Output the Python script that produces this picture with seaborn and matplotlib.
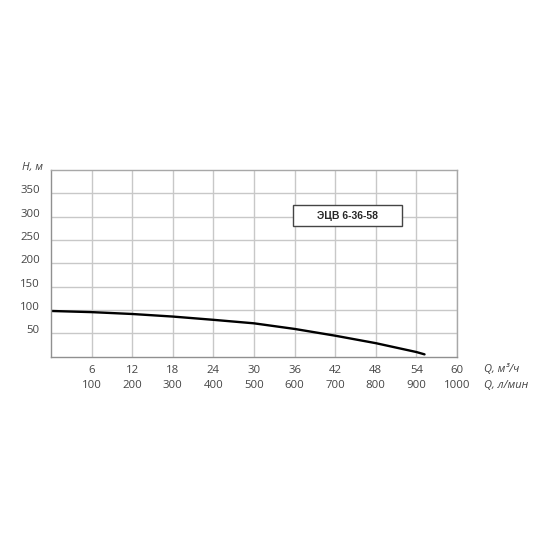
import matplotlib.pyplot as plt
import matplotlib.transforms as mtransforms
from matplotlib.patches import Rectangle
import seaborn as sns
import pandas as pd

# ---- data ----
q_m3h = [0, 6, 12, 18, 24, 30, 36, 42, 48, 54, 55.2]
head_m = [98, 95.5, 91.5, 86, 79, 71.5, 59.5, 45, 29, 10, 5]

x_ticks = [6, 12, 18, 24, 30, 36, 42, 48, 54, 60]
x_ticks_lmin = [100, 200, 300, 400, 500, 600, 700, 800, 900, 1000]
y_ticks = [50, 100, 150, 200, 250, 300, 350]
pump_name = "ЭЦВ 6-36-58"

df = pd.DataFrame({"Q": q_m3h, "H": head_m})

sns.set_style("whitegrid")
plt.rcParams['font.family'] = ['Open Sans', 'DejaVu Sans']
txt_col = "#444444"

fig = plt.figure(figsize=(5.5, 5.5), dpi=100)
ax = fig.add_axes([51 / 550, 1 - 356.7 / 550, 406 / 550, 186.7 / 550])

sns.lineplot(data=df, x="Q", y="H", color="black", linewidth=1.7, ax=ax)

ax.set_xlim(0, 60)
ax.set_ylim(0, 400)
ax.set_xticks(x_ticks)
ax.set_xticklabels([f"{a}\n{b}" for a, b in zip(x_ticks, x_ticks_lmin)],
                   linespacing=1.55)
ax.set_yticks(y_ticks)
ax.set_xlabel("")
ax.set_ylabel("")
ax.tick_params(axis="both", length=0, labelsize=8.2, colors=txt_col, pad=6)
ax.tick_params(axis="y", pad=8)

# y labels sit a bit above their grid lines
off = mtransforms.ScaledTranslation(0, 4 / 100, fig.dpi_scale_trans)
for lab in ax.get_yticklabels():
    lab.set_transform(lab.get_transform() + off)

ax.grid(True, color="#c8c8c8", linewidth=1)
for sp in ax.spines.values():
    sp.set_color("#a8a8a8")
    sp.set_linewidth(1)
ax.spines["bottom"].set_color("#909090")
ax.spines["left"].set_color("#909090")

# pump label box
ax.add_patch(Rectangle((35.7, 281), 16.1, 44, facecolor="white",
                       edgecolor="#444444", linewidth=1, zorder=3))
ax.text(43.75, 302, pump_name, ha="center", va="center", fontsize=7.5,
        fontweight="bold", family=["Liberation Sans", "DejaVu Sans"], zorder=4)

# axis captions
fig.text(22 / 550, 1 - 167 / 550, "H, м", style="italic", fontsize=8,
         color=txt_col, ha="left", va="center")
fig.text(484 / 550, 1 - 369 / 550, "Q, м³/ч", style="italic", fontsize=8,
         color=txt_col, ha="left", va="center")
fig.text(484 / 550, 1 - 386 / 550, "Q, л/мин", style="italic", fontsize=8,
         color=txt_col, ha="left", va="center")

plt.savefig("out.png", dpi=100)
